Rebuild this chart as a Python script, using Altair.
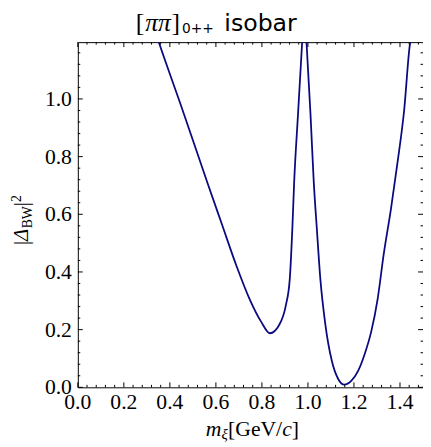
import altair as alt
import pandas as pd

# ---- data ----
m_xi = [0.340, 0.351, 0.458, 0.565, 0.625, 0.690, 0.746, 0.797, 0.835, 0.875,
        0.904, 0.921, 0.932, 0.940, 0.957, 0.975, 0.984, 0.9936, 1.011, 1.025,
        1.039, 1.054, 1.075, 1.104, 1.132, 1.158, 1.189, 1.218, 1.246, 1.275,
        1.303, 1.329, 1.361, 1.389, 1.418, 1.443, 1.452]
delta2 = [1.225, 1.199, 0.955, 0.705, 0.568, 0.420, 0.307, 0.227, 0.1875, 0.216,
          0.284, 0.375, 0.546, 0.709, 0.949, 1.199, 1.32, 1.199, 0.949, 0.716,
          0.546, 0.375, 0.222, 0.091, 0.028, 0.009, 0.023, 0.057, 0.114, 0.193,
          0.307, 0.460, 0.620, 0.778, 0.960, 1.188, 1.225]

x_major = [0.0, 0.2, 0.4, 0.6, 0.8, 1.0, 1.2, 1.4]
y_major = [0.0, 0.2, 0.4, 0.6, 0.8, 1.0]
x_labels = ["0.0", "0.2", "0.4", "0.6", "0.8", "1.0", "1.2", "1.4"]
y_labels = ["0.0", "0.2", "0.4", "0.6", "0.8", "1.0"]
x_minor = [round(i * 0.04, 2) for i in range(0, 38) if i % 5 != 0]
y_minor = [round(i * 0.04, 2) for i in range(0, 30) if i % 5 != 0]

XMAX = 1.5
YMAX = 1.197
W = 351
H = 351
SERIF = "Liberation Serif"
SANS = "DejaVu Sans"

xs = alt.Scale(domain=[0, XMAX], nice=False, zero=False)
ys = alt.Scale(domain=[0, YMAX], nice=False, zero=False)

df = pd.DataFrame({"m": m_xi, "d": delta2})

curve = alt.Chart(df).mark_line(color="#0a0a80", strokeWidth=1.8, clip=True,
                                interpolate="monotone").encode(
    x=alt.X("m:Q", scale=xs, axis=None),
    y=alt.Y("d:Q", scale=ys, axis=None),
)

def xticks(vals, L):
    d = pd.DataFrame({"t": vals})
    base = alt.Chart(d).mark_rule(color="black", strokeWidth=1)
    bot = base.encode(x=alt.X("t:Q", scale=xs, axis=None), y=alt.value(H), y2=alt.value(H - L))
    top = base.encode(x=alt.X("t:Q", scale=xs, axis=None), y=alt.value(0), y2=alt.value(L))
    return [bot, top]

def yticks(vals, L):
    d = pd.DataFrame({"t": vals})
    base = alt.Chart(d).mark_rule(color="black", strokeWidth=1)
    lef = base.encode(y=alt.Y("t:Q", scale=ys, axis=None), x=alt.value(0), x2=alt.value(L))
    rig = base.encode(y=alt.Y("t:Q", scale=ys, axis=None), x=alt.value(W), x2=alt.value(W - L))
    return [lef, rig]

# tick labels as text marks positioned through the scales
xlab = alt.Chart(pd.DataFrame({"t": x_major, "s": x_labels})).mark_text(
    font=SERIF, fontSize=22, fontStyle="normal", fontWeight="normal",
    align="center", baseline="alphabetic", color="black"
).encode(x=alt.X("t:Q", scale=xs, axis=None), y=alt.value(H + 22),
         text=alt.Text("s:N"))
ylab = alt.Chart(pd.DataFrame({"t": y_major, "s": y_labels})).mark_text(
    font=SERIF, fontSize=22, fontStyle="normal", fontWeight="normal",
    align="right", baseline="middle", color="black"
).encode(y=alt.Y("t:Q", scale=ys, axis=None), x=alt.value(-6),
         text=alt.Text("s:N"))

one = pd.DataFrame({"a": [0]})

def txt(s, x, y, font, size, style="normal", angle=0, align="left"):
    kw = dict(text=s, font=font, fontSize=size, fontStyle=style, align=align,
              baseline="alphabetic", color="black")
    if angle:
        kw["angle"] = angle
    return alt.Chart(one).mark_text(**kw).encode(x=alt.value(x), y=alt.value(y))

# approximate glyph widths (em)
REG = {'|': 0.2, '[': 0.333, ']': 0.333, 'G': 0.722, 'e': 0.444, 'V': 0.722,
       '/': 0.278, 'B': 0.667, 'W': 0.944, '2': 0.5}
ITA = {'m': 0.722, 'c': 0.444, 'Δ': 0.612, 'ξ': 0.45, 'π': 0.5}

def width(s, size, style):
    tab = ITA if style == "italic" else REG
    return sum(tab.get(ch, 0.5) for ch in s) * size

# x-axis title pieces: (text, size, style, baseline shift)
xt_pieces = [("m", 22, "italic", 0), ("ξ", 15, "italic", 4), ("[GeV/", 22, "normal", 0),
             ("c", 22, "italic", 0), ("]", 22, "normal", 0)]
total = sum(width(p[0], p[1], p[2]) for p in xt_pieces)
cx = W / 2 - total / 2 + 2
layers = []
for s, sz, st, sh in xt_pieces:
    layers.append(txt(s, cx, 400 + sh, SERIF, sz, st))
    cx += width(s, sz, st)

# y-axis title pieces, rotated
yt_pieces = [("|", 21, "normal", 0), ("Δ", 21, "italic", 0), ("BW", 14, "normal", 4),
             ("|", 21, "normal", 0), ("2", 14, "normal", -7)]
total = sum(width(p[0], p[1], p[2]) for p in yt_pieces)
cy = 220 - 39 + total / 2
for s, sz, st, sh in yt_pieces:
    layers.append(txt(s, -51 + sh, cy, SERIF, sz, st, angle=270))
    cy -= width(s, sz, st)

# title pieces
layers.append(txt("[", 138 - 79, -11, SERIF, 26))
layers.append(txt("ππ", 160.5 - 79, -11, SERIF, 26, "italic", align="center"))
layers.append(txt("]", 183 - 79, -11, SERIF, 26, align="right"))
layers.append(txt("0++", 185 - 79, -9, SANS, 14))
layers.append(txt("isobar", 228 - 79, -11, SANS, 24))

chart = alt.layer(
    curve,
    *xticks(x_major, 5), *xticks(x_minor, 2.5),
    *yticks(y_major, 5), *yticks(y_minor, 2.5),
    xlab, ylab,
    *layers,
).properties(
    width=W, height=H,
    background="white",
    autosize=alt.AutoSizeParams(type="none"),
    padding={"left": 71, "top": 31, "right": 0, "bottom": 58},
).configure_view(stroke="black", strokeWidth=1)

chart.save("out.html", embed_options={"renderer": "svg", "actions": False})
